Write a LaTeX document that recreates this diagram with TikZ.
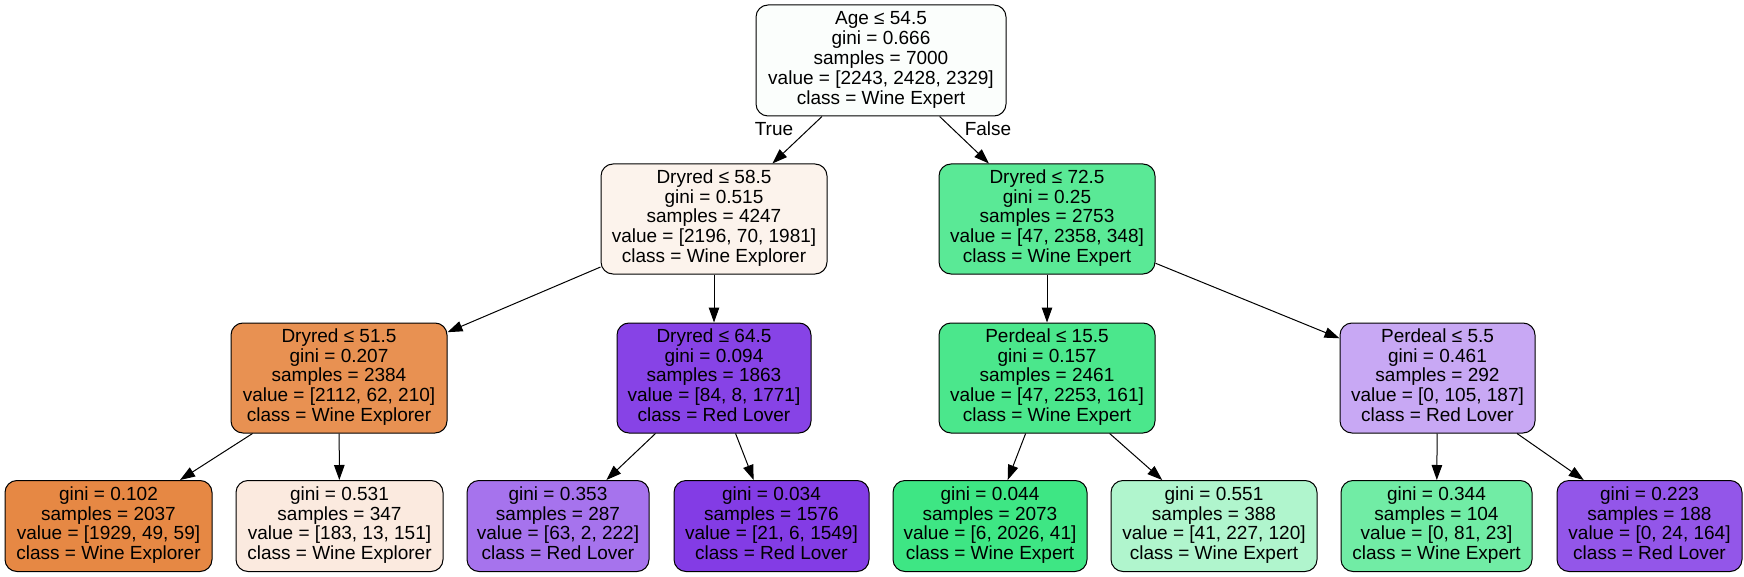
\documentclass[tikz,border=0pt]{standalone}
\usepackage{fontspec}
\setmainfont{Liberation Sans}
\usetikzlibrary{arrows.meta}
\definecolor{cA}{RGB}{251,254,252}
\definecolor{cB}{RGB}{252,243,236}
\definecolor{cC}{RGB}{90,233,150}
\definecolor{cD}{RGB}{232,145,82}
\definecolor{cE}{RGB}{135,67,230}
\definecolor{cF}{RGB}{75,231,140}
\definecolor{cG}{RGB}{200,168,244}
\definecolor{cH}{RGB}{230,136,68}
\definecolor{cI}{RGB}{251,234,223}
\definecolor{cJ}{RGB}{166,115,237}
\definecolor{cK}{RGB}{131,60,229}
\definecolor{cL}{RGB}{62,230,132}
\definecolor{cM}{RGB}{176,245,205}
\definecolor{cN}{RGB}{113,236,165}
\definecolor{cO}{RGB}{147,86,233}
\begin{document}
\begin{tikzpicture}[x=1pt,y=-1pt,
  tn/.style={draw=black, line width=1pt, rounded corners=12pt, inner sep=0pt,
    align=center, font=\fontsize{19}{19.9}\selectfont, minimum height=110pt},
  lf/.style={tn, minimum height=91pt},
  edge/.style={draw=black, line width=1pt, -{Triangle[length=15pt,width=10.5pt]}},
  lbl/.style={font=\fontsize{19}{19.9}\selectfont, inner sep=0pt}]
\useasboundingbox (0,0) rectangle (1744,577);
% root
\node[tn, fill=cA, minimum width=250pt, minimum height=111pt] (n0) at (881,60.5)
  {\strut Age ≤ 54.5\\gini = 0.666\\samples = 7000\\value = [2243, 2428, 2329]\\class = Wine Expert\strut};
% level 1
\node[tn, fill=cB, minimum width=226pt] (n1a) at (714,219)
  {\strut Dryred ≤ 58.5\\gini = 0.515\\samples = 4247\\value = [2196, 70, 1981]\\class = Wine Explorer\strut};
\node[tn, fill=cC, minimum width=216pt] (n1b) at (1047,219)
  {\strut Dryred ≤ 72.5\\gini = 0.25\\samples = 2753\\value = [47, 2358, 348]\\class = Wine Expert\strut};
% level 2
\node[tn, fill=cD, minimum width=216pt] (n2a) at (339,378)
  {\strut Dryred ≤ 51.5\\gini = 0.207\\samples = 2384\\value = [2112, 62, 210]\\class = Wine Explorer\strut};
\node[tn, fill=cE, minimum width=194pt] (n2b) at (714,378)
  {\strut Dryred ≤ 64.5\\gini = 0.094\\samples = 1863\\value = [84, 8, 1771]\\class = Red Lover\strut};
\node[tn, fill=cF, minimum width=216pt] (n2c) at (1047,378)
  {\strut Perdeal ≤ 15.5\\gini = 0.157\\samples = 2461\\value = [47, 2253, 161]\\class = Wine Expert\strut};
\node[tn, fill=cG, minimum width=195pt] (n2d) at (1437.5,378)
  {\strut Perdeal ≤ 5.5\\gini = 0.461\\samples = 292\\value = [0, 105, 187]\\class = Red Lover\strut};
% leaves
\node[lf, fill=cH, minimum width=207pt] (l1) at (108.5,526)
  {\strut gini = 0.102\\samples = 2037\\value = [1929, 49, 59]\\class = Wine Explorer\strut};
\node[lf, fill=cI, minimum width=207pt] (l2) at (339.5,526)
  {\strut gini = 0.531\\samples = 347\\value = [183, 13, 151]\\class = Wine Explorer\strut};
\node[lf, fill=cJ, minimum width=182pt] (l3) at (558,526)
  {\strut gini = 0.353\\samples = 287\\value = [63, 2, 222]\\class = Red Lover\strut};
\node[lf, fill=cK, minimum width=195pt] (l4) at (771.5,526)
  {\strut gini = 0.034\\samples = 1576\\value = [21, 6, 1549]\\class = Red Lover\strut};
\node[lf, fill=cL, minimum width=194pt] (l5) at (990,526)
  {\strut gini = 0.044\\samples = 2073\\value = [6, 2026, 41]\\class = Wine Expert\strut};
\node[lf, fill=cM, minimum width=206pt] (l6) at (1214,526)
  {\strut gini = 0.551\\samples = 388\\value = [41, 227, 120]\\class = Wine Expert\strut};
\node[lf, fill=cN, minimum width=191pt] (l7) at (1436.5,526)
  {\strut gini = 0.344\\samples = 104\\value = [0, 81, 23]\\class = Wine Expert\strut};
\node[lf, fill=cO, minimum width=185pt] (l8) at (1649.5,526)
  {\strut gini = 0.223\\samples = 188\\value = [0, 24, 164]\\class = Red Lover\strut};
% edge labels
\node[lbl] (tTrue) at (774,129) {True};
\node[lbl] (tFalse) at (988,129) {False};
% edges
\draw[edge] (n0) -- (n1a);
\draw[edge] (n0) -- (n1b);
\draw[edge] (n1a) -- (n2a);
\draw[edge] (n1a) -- (n2b);
\draw[edge] (n1b) -- (n2c);
\draw[edge] (n1b) -- (n2d);
\draw[edge] (n2a) -- (l1);
\draw[edge] (n2a) -- (l2);
\draw[edge] (n2b) -- (l3);
\draw[edge] (n2b) -- (l4);
\draw[edge] (n2c) -- (l5);
\draw[edge] (n2c) -- (l6);
\draw[edge] (n2d) -- (l7);
\draw[edge] (n2d) -- (l8);
\end{tikzpicture}
\end{document}
